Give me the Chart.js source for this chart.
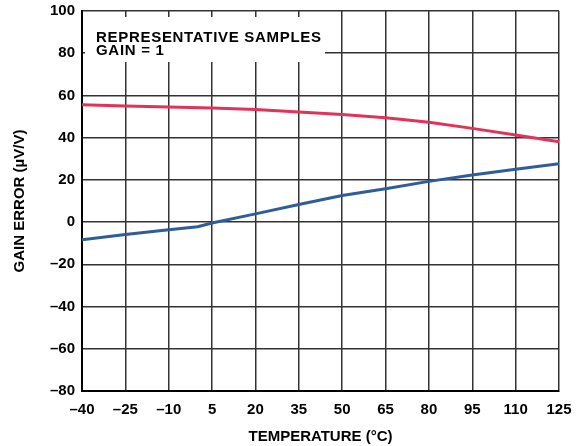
<!DOCTYPE html>
<html>
<head>
    <meta charset="utf-8">
    <title>Gain Error vs Temperature</title>
    <script src="https://cdn.jsdelivr.net/npm/chart.js"></script>
    <style>
        body { margin: 0; background: #fff; }
        #wrap { width: 585px; height: 446px; }
    </style>
</head>
<body>
    <div id="wrap">
        <canvas id="gainChart" width="585" height="446"></canvas>
    </div>

    <script>
        // Data (temperature in °C, gain error in µV/V)
        const redTemps = [-40, -25, -10, 5, 20, 35, 50, 65, 80, 95, 110, 125];
        const redError = [55.6, 55.0, 54.5, 54.0, 53.4, 52.2, 51.0, 49.4, 47.3, 44.4, 41.3, 38.1];

        const blueTemps = [-40, -25, -10, 0, 5, 20, 35, 50, 65, 80, 95, 110, 125];
        const blueError = [-8.4, -5.9, -3.6, -2.2, -0.4, 3.9, 8.3, 12.6, 15.8, 19.3, 22.3, 25.0, 27.6];

        const boxLines = ['REPRESENTATIVE SAMPLES', 'GAIN = 1'];

        const toPoints = (xs, ys) => xs.map((x, i) => ({ x: x, y: ys[i] }));
        const font = { family: '"Liberation Sans", Arial, sans-serif', size: 15, weight: 'bold' };

        // White note box in the top-left corner of the plot
        const noteBox = {
            id: 'noteBox',
            beforeDatasetsDraw(chart) {
                const ctx = chart.ctx;
                ctx.save();
                ctx.fillStyle = '#fff';
                ctx.fillRect(85, 17, 240, 45);
                ctx.fillStyle = '#000';
                ctx.font = 'bold 15px "Liberation Sans", Arial, sans-serif';
                ctx.letterSpacing = '0.7px';
                ctx.textBaseline = 'alphabetic';
                ctx.fillText(boxLines[0], 96, 42);
                ctx.fillText(boxLines[1], 96, 55);
                ctx.restore();
            }
        };

        const ctx = document.getElementById('gainChart').getContext('2d');
        new Chart(ctx, {
            type: 'line',
            data: {
                datasets: [{
                    data: toPoints(redTemps, redError),
                    borderColor: '#e2325a',
                    borderWidth: 3,
                    pointRadius: 0,
                    fill: false
                }, {
                    data: toPoints(blueTemps, blueError),
                    borderColor: '#2e5d98',
                    borderWidth: 3,
                    pointRadius: 0,
                    fill: false
                }]
            },
            options: {
                responsive: false,
                animation: false,
                layout: { padding: { top: 11, right: 26, left: 0, bottom: 0 } },
                plugins: {
                    legend: { display: false },
                    tooltip: { enabled: false }
                },
                scales: {
                    x: {
                        type: 'linear',
                        min: -40,
                        max: 125,
                        afterFit: s => { s.height = 55; s.paddingLeft = 0; s.paddingRight = 0; },
                        afterBuildTicks: s => {
                            s.ticks = redTemps.map(v => ({ value: v }));
                        },
                        ticks: {
                            color: '#000',
                            font: font,
                            padding: 10,
                            maxRotation: 0,
                            autoSkip: false,
                            callback: v => String(v).replace('-', '\u2013')
                        },
                        grid: { color: '#333', lineWidth: 1.5, drawTicks: false },
                        border: { color: '#000', width: 2 },
                        title: {
                            display: true,
                            text: 'TEMPERATURE (°C)',
                            color: '#000',
                            font: font,
                            padding: { top: 4, bottom: 0 }
                        }
                    },
                    y: {
                        min: -80,
                        max: 100,
                        afterFit: s => { s.width = 82; s.paddingTop = 0; s.paddingBottom = 0; },
                        ticks: {
                            stepSize: 20,
                            color: '#000',
                            font: font,
                            padding: 7,
                            callback: v => String(v).replace('-', '\u2013')
                        },
                        grid: { color: '#333', lineWidth: 1.5, drawTicks: false },
                        border: { color: '#000', width: 2 },
                        title: {
                            display: true,
                            text: 'GAIN ERROR (µV/V)',
                            color: '#000',
                            font: font,
                            padding: { top: 11, bottom: 4 }
                        }
                    }
                }
            },
            plugins: [noteBox]
        });
    </script>
</body>
</html>
